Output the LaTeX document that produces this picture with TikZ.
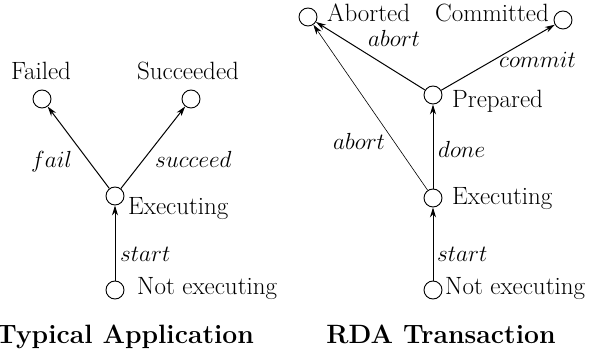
\RequirePackage{fix-cm}
\documentclass[tikz,border=0pt]{standalone}
\usetikzlibrary{arrows.meta}
\begin{document}
\begin{tikzpicture}[x=1pt,y=-1pt,
  state/.style={circle,draw,line width=0.9pt,minimum size=18pt,inner sep=0pt},
  txt/.style={inner sep=0pt,font=\fontsize{25}{29}\selectfont},
  lbl/.style={inner sep=0pt,font=\fontsize{23.3}{27}\selectfont},
  ttl/.style={inner sep=0pt,font=\fontsize{26.5}{30}\selectfont\bfseries},
  arr/.style={line width=1pt,-{Stealth[length=10pt,width=6pt]}},
  tarr/.style={line width=0.6pt,-{Stealth[length=10pt,width=6pt]}}]
\useasboundingbox (0,0) rectangle (592,355);
% left diagram
\node[state] (failed) at (42,99) {};
\node[state] (succ) at (191,99) {};
\node[state] (exe) at (115,196) {};
\node[state] (notexe) at (115,290) {};
\node[txt,anchor=base] (tfailed) at (41,80) {Failed};
\node[txt,anchor=base] (tsucc) at (188,80) {Succeeded};
\node[txt,anchor=base west] (texe) at (128,215) {Executing};
\node[txt,anchor=base west] (tnotexe) at (137,295) {Not executing};
\node[lbl,anchor=base west] (lfail) at (31,168) {$fail$};
\node[lbl,anchor=base west] (lsucc) at (155,168) {$succeed$};
\node[lbl,anchor=base west] (lstart) at (120,262) {$start$};
\node[ttl,anchor=base] (title1) at (125,344) {Typical Application};
\draw[arr] (exe) -- (failed);
\draw[arr] (exe) -- (succ);
\draw[arr] (notexe) -- (exe);
% right diagram
\node[state] (abt) at (308,17) {};
\node[state] (com) at (563,20) {};
\node[state] (prep) at (433,95) {};
\node[state] (rexe) at (433,198) {};
\node[state] (rnotexe) at (433,290) {};
\node[txt,anchor=base west] (tabt) at (327,22) {Aborted};
\node[txt,anchor=base west] (tcom) at (435,22) {Committed};
\node[txt,anchor=base west] (tprep) at (452,108) {Prepared};
\node[txt,anchor=base west] (trexe) at (452,205) {Executing};
\node[txt,anchor=base west] (trnotexe) at (445,295) {Not executing};
\node[lbl,anchor=base west] (labt1) at (368,47) {$abort$};
\node[lbl,anchor=base west] (lcom) at (499,68) {$commit$};
\node[lbl,anchor=base west] (labt2) at (333,150) {$abort$};
\node[lbl,anchor=base west] (ldone) at (438,158) {$done$};
\node[lbl,anchor=base west] (lrstart) at (437,262) {$start$};
\node[ttl,anchor=base] (title2) at (441,344) {RDA Transaction};
\draw[arr] (prep) -- (abt);
\draw[arr] (prep) -- (com);
\draw[tarr] (rexe) -- (abt);
\draw[arr] (rexe) -- (prep);
\draw[arr] (rnotexe) -- (rexe);
\end{tikzpicture}
\end{document}
